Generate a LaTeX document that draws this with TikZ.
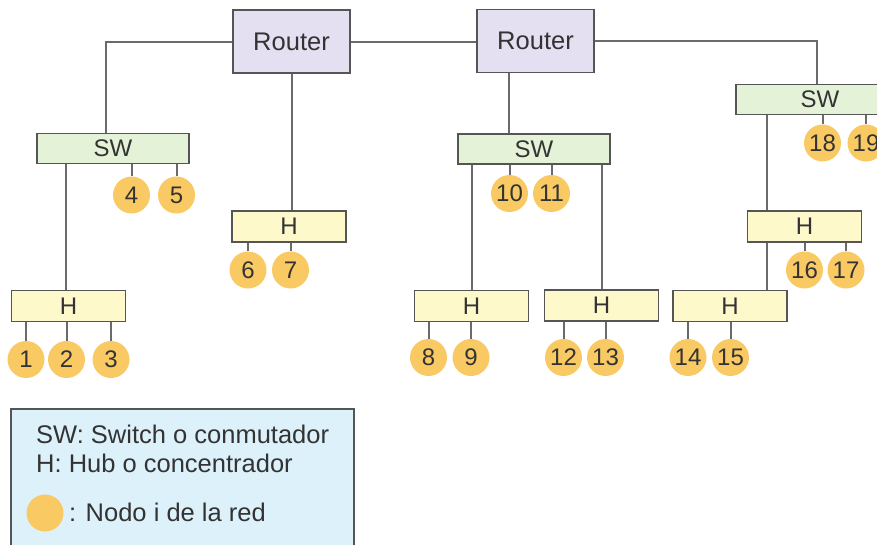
\documentclass[tikz,border=0pt]{standalone}
\usepackage{fontspec}
\setmainfont{Liberation Sans}
\usetikzlibrary{calc}
\definecolor{linec}{HTML}{6A6A6A}
\definecolor{borderc}{HTML}{555555}
\definecolor{routerf}{HTML}{E4DFF1}
\definecolor{swf}{HTML}{E4F2D8}
\definecolor{hubf}{HTML}{FEF9CB}
\definecolor{nodef}{HTML}{F9CA63}
\definecolor{legf}{HTML}{DCF1FA}
\definecolor{txt}{HTML}{333333}
\tikzset{
  box/.style={draw=borderc, line width=1.8pt, inner sep=0pt, text=txt},
  router/.style={box, fill=routerf, minimum width=117, minimum height=63, font=\fontsize{25.5}{28}\selectfont},
  swbox/.style={box, fill=swf, minimum width=152, minimum height=30, font=\fontsize{24}{26}\selectfont},
  hubbox/.style={box, fill=hubf, minimum width=114, minimum height=31, font=\fontsize{24}{26}\selectfont},
  host/.style={circle, fill=nodef, minimum size=37, inner sep=0pt, text=txt, font=\fontsize{24}{26}\selectfont},
  conn/.style={draw=linec, line width=2pt},
  legtext/.style={anchor=base west, inner sep=0pt, text=txt, font=\fontsize{25.5}{28}\selectfont}
}
\begin{document}
\begin{tikzpicture}[x=1pt, y=-1pt]
\useasboundingbox (0,0) rectangle (877,544);
% legend
\path[draw=borderc, line width=1.8pt, fill=legf] (11,409) rectangle (354,570);
\node[legtext] (l1) at (36,443) {SW: Switch o conmutador};
\node[legtext] (l2) at (36,472) {H: Hub o concentrador};
\node[host] (lc) at (45,513) {};
\node[legtext] (l3) at (69,521) {: Nodo i de la red};
% routers and switches
\node[router] (r1) at (291.5,41.5) {Router};
\node[router] (r2) at (535.5,41) {Router};
\node[swbox] (sw1) at (113,148.5) {SW};
\node[swbox] (sw2) at (534,149) {SW};
\node[swbox, minimum width=168] (sw3) at (820,99.5) {SW};
% hubs
\node[hubbox] (h1) at (68.5,306) {H};
\node[hubbox] (h2) at (289,226.5) {H};
\node[hubbox] (h3) at (471.5,306) {H};
\node[hubbox] (h4) at (601.5,305.5) {H};
\node[hubbox] (h5) at (730,306) {H};
\node[hubbox] (h6) at (804.5,226.5) {H};
% hosts
\node[host] (n1) at (26,359.5) {1};
\node[host] (n2) at (66.5,359.5) {2};
\node[host] (n3) at (111,359.5) {3};
\node[host] (n4) at (131.5,195) {4};
\node[host] (n5) at (176.5,195) {5};
\node[host] (n6) at (248,270) {6};
\node[host] (n7) at (290.5,270) {7};
\node[host] (n8) at (428.5,357.5) {8};
\node[host] (n9) at (471,357.5) {9};
\node[host] (n10) at (509.5,193.5) {10};
\node[host] (n11) at (551.5,193.5) {11};
\node[host] (n12) at (563.5,357.5) {12};
\node[host] (n13) at (605.5,357.5) {13};
\node[host] (n14) at (688,357.5) {14};
\node[host] (n15) at (730.5,357.5) {15};
\node[host] (n16) at (804.5,270) {16};
\node[host] (n17) at (846,270) {17};
\node[host] (n18) at (822.5,143) {18};
\node[host] (n19) at (866,143) {19};
% helper points
\coordinate (sw1in) at ([xshift=-7]sw1.north);
\coordinate (h1in) at ([xshift=-2.5]h1.north);
\coordinate (r2out) at ([xshift=-26.5]r2.south);
\coordinate (sw3in) at ([xshift=-3]sw3.north);
\coordinate (h6in) at ([xshift=-37.5]h6.north);
% backbone
\draw[conn] (r1.east) -- (r1.east -| r2.west);
\draw[conn] (r1.west) -| (sw1in);
\draw[conn] (r2.east) -| (sw3in);
\draw[conn] (r1.south) -- (r1.south |- h2.north);
\draw[conn] (r2out) -- (r2out |- sw2.north);
\draw[conn] (h1in |- sw1.south) -- (h1in);
\draw[conn] (h3.north |- sw2.south) -- (h3.north);
\draw[conn] (h4.north |- sw2.south) -- (h4.north);
\draw[conn] (h6in |- sw3.south) -- (h6in);
\draw[conn] (h6in |- h6.south) -- (h6in |- h5.north);
% stubs
\foreach \n/\p in {n1/h1,n2/h1,n3/h1,n4/sw1,n5/sw1,n6/h2,n7/h2,n8/h3,n9/h3,n10/sw2,n11/sw2,n12/h4,n13/h4,n14/h5,n15/h5,n16/h6,n17/h6,n18/sw3,n19/sw3}
  \draw[conn] (\n.north) -- (\n.north |- \p.south);
\end{tikzpicture}
\end{document}
